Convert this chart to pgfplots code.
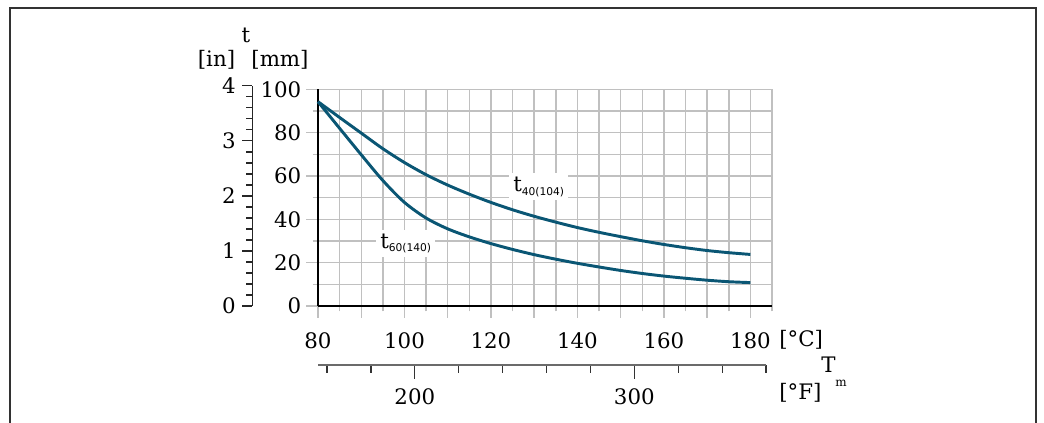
\documentclass[border=0pt]{standalone}
\usepackage{fontspec}
\setmainfont{DejaVu Serif}
\newfontfamily\subfont{DejaVu Sans}
\usepackage{pgfplots}
\pgfplotsset{compat=1.18}
\definecolor{curve}{RGB}{10,86,116}
\definecolor{gridc}{RGB}{192,192,192}
\definecolor{frame}{RGB}{50,50,50}
\newcommand{\mainfs}{\fontsize{16}{19}\selectfont}
\begin{document}
\begin{tikzpicture}[font=\mainfs]
\path[use as bounding box] (0pt,0pt) rectangle (783pt,317.25pt);

% main axis (degC / mm)
\begin{axis}[
  at={(238.5pt,87.75pt)}, anchor=south west,
  scale only axis, width=340.5pt, height=162.5pt,
  xmin=80, xmax=185, ymin=0, ymax=100,
  axis x line*=bottom, axis y line*=left,
  axis line style={black, line width=1.2pt},
  xtick={80,90,...,180}, minor xtick={85,95,...,185},
  ytick={0,20,...,100}, minor ytick={10,30,...,90},
  xticklabels={80,,100,,120,,140,,160,,180},
  grid=both,
  major grid style={gridc, line width=1.1pt},
  minor grid style={gridc, line width=1.1pt},
  tick align=outside, major tick length=9pt, minor tick length=4pt,
  tick style={gridc, line width=1.1pt},
  /pgf/number format/assume math mode=true,
  ticklabel style={font=\mainfs},
  xticklabel style={yshift=-7.5pt},
  clip=false,
]
\addplot[curve, line width=2.2pt, smooth] coordinates {
(80,94.3) (85,87.0) (90,79.8) (95,72.6) (100,66.2) (105,60.6) (110,55.8)
(115,51.6) (120,47.8) (125,44.4) (130,41.4) (135,38.7) (140,36.2) (145,34.0)
(150,32.0) (155,30.1) (160,28.4) (165,26.9) (170,25.6) (175,24.6) (180,23.8)};
\addplot[curve, line width=2.2pt, smooth] coordinates {
(80,94.3) (85,82.0) (90,69.8) (95,57.9) (100,47.8) (105,40.6) (110,35.6)
(115,31.9) (120,28.8) (125,26.1) (130,23.7) (135,21.6) (140,19.7) (145,18.0)
(150,16.4) (155,15.0) (160,13.8) (165,12.8) (170,11.9) (175,11.2) (180,10.8)};
\end{axis}

% inch axis
\begin{axis}[
  at={(189.225pt,87.75pt)}, anchor=south west,
  scale only axis, width=1pt, height=165.1pt,
  xmin=0, xmax=1, ymin=0, ymax=4,
  hide x axis, axis y line*=left,
  axis line style={black!85, line width=1pt},
  ytick={0,1,2,3,4}, minor tick num=4,
  tick align=outside, major tick length=7.5pt, minor tick length=4.5pt,
  tick style={black!85, line width=0.9pt},
  /pgf/number format/assume math mode=true,
  ticklabel style={font=\mainfs},
  yticklabel style={xshift=-1.5pt},
]
\end{axis}

% Fahrenheit axis
\begin{axis}[
  at={(238.5pt,43.5pt)}, anchor=south west,
  scale only axis, width=336pt, height=1pt,
  xmin=155.9, xmax=360, ymin=0, ymax=1,
  hide y axis, axis x line*=bottom,
  axis line style={black!58, line width=1.5pt},
  xtick={200,300}, minor xtick={160,180,220,240,260,280,320,340,360},
  tick align=outside, major tick length=10.5pt, minor tick length=6pt,
  tick style={black!80, line width=0.9pt},
  /pgf/number format/assume math mode=true,
  ticklabel style={font=\mainfs},
  xticklabel style={yshift=-3.5pt},
]
\end{axis}

\begin{scope}[x=0.75pt, y=-0.75pt, shift={(0pt,317.25pt)}]
\draw[line width=1.5pt, frame] (9.5,424) -- (9.5,8) -- (1036.3,8) -- (1036.3,424);
\node[anchor=base, inner sep=0pt] at (246,43) {t};
\node[anchor=base, inner sep=0pt] at (216.5,67) {[in]};
\node[anchor=base, inner sep=0pt] at (280,67) {[mm]};
\node[anchor=base west, inner sep=0pt] at (779,347) {[°C]};
\node[anchor=base west, inner sep=0pt] at (779,400) {[°F]};
\node[anchor=base west, inner sep=0pt] at (821,373) {T};
\node[anchor=base west, inner sep=0pt, font=\fontsize{9}{9}\selectfont] at (835,386.5) {m};
\node[anchor=base west, fill=white, inner sep=3pt] at (509,191.7) {t\raisebox{-2.5pt}{\subfont\fontsize{8}{8}\selectfont 40(104)}};
\node[anchor=base west, fill=white, inner sep=3pt] at (376,248.3) {t\raisebox{-2.5pt}{\subfont\fontsize{8}{8}\selectfont 60(140)}};
\end{scope}
\end{tikzpicture}
\end{document}
